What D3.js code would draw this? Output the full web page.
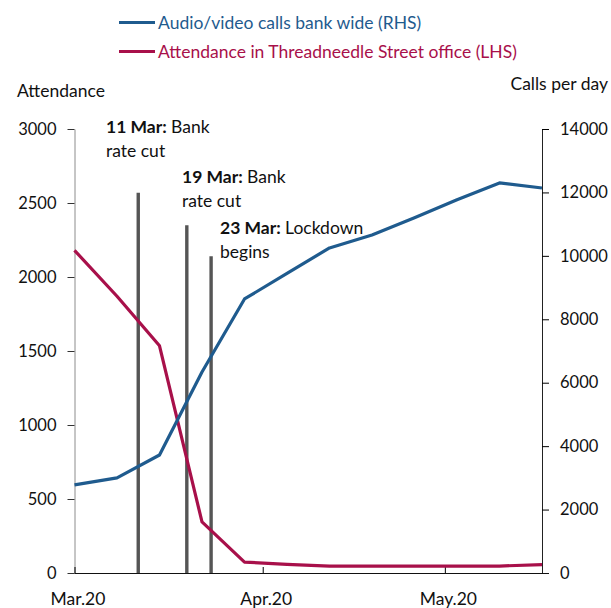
<!DOCTYPE html>
<html>
<head>
<meta charset="utf-8">
<script src="https://cdn.jsdelivr.net/npm/d3@7"></script>
<style>
  body { margin: 0; background: #fff; }
  text { font-family: Lato, "Open Sans", sans-serif; }
</style>
</head>
<body>
<script>
// weekly observations
const weeks = ["2020-03-01","2020-03-08","2020-03-15","2020-03-22","2020-03-29","2020-04-05",
               "2020-04-12","2020-04-19","2020-04-26","2020-05-03","2020-05-10","2020-05-17"];
const calls = [2780, 3000, 3720, 6340, 8640, 9450, 10250, 10660, 11200, 11770, 12300, 12140];
const attendance = [2180, 1870, 1535, 345, 74, 58, 47, 47, 47, 47, 47, 57];

// events marked with bars (attendance-axis heights)
const eventDates = ["2020-03-11T12:00","2020-03-19T12:00","2020-03-23T12:00"];
const eventHeights = [2570, 2350, 2140];
const eventBold = ["11 Mar:", "19 Mar:", "23 Mar:"];
const eventRest = [["Bank", "rate cut"], ["Bank", "rate cut"], ["Lockdown", "begins"]];

const leftTicks = [0, 500, 1000, 1500, 2000, 2500, 3000];
const rightTicks = [0, 2000, 4000, 6000, 8000, 10000, 12000, 14000];
const monthTicks = ["2020-03-01","2020-04-01","2020-05-01"];

const blue = "#1f5b8e", red = "#a8104a", grey = "#555";
const fs = 17.5;

const parse = s => new Date(s);

const svg = d3.select("body").append("svg")
    .attr("width", 611)
    .attr("height", 608);

const x = d3.scaleTime()
    .domain([parse("2020-03-01"), parse("2020-05-17")])
    .range([74.5, 542]);
const yL = d3.scaleLinear().domain([0, 3000]).range([573, 129]);
const yR = d3.scaleLinear().domain([0, 14000]).range([573, 129]);

// event bars
eventDates.forEach((d, i) => {
    svg.append("line")
        .attr("x1", x(parse(d))).attr("x2", x(parse(d)))
        .attr("y1", yL(0)).attr("y2", yL(eventHeights[i]))
        .attr("stroke", grey)
        .attr("stroke-width", 3.4);
});

// axes
const gL = svg.append("g")
    .attr("transform", "translate(74.5,0)")
    .call(d3.axisLeft(yL).tickValues(leftTicks).tickSizeInner(7).tickSizeOuter(0).tickPadding(11).tickFormat(d3.format("d")));
gL.select(".domain").attr("stroke", "#8c8c8c");
gL.selectAll(".tick line").attr("stroke", "#333");

const gR = svg.append("g")
    .attr("transform", "translate(542,0)")
    .call(d3.axisRight(yR).tickValues(rightTicks).tickSizeInner(7).tickSizeOuter(0).tickPadding(11).tickFormat(d3.format("d")));
gR.select(".domain").attr("stroke", "#222");

const gX = svg.append("g")
    .attr("transform", "translate(0,573)")
    .call(d3.axisBottom(x).tickValues(monthTicks.map(parse)).tickSizeInner(-6).tickSizeOuter(0).tickPadding(20)
        .tickFormat(d3.timeFormat("%b.%y")));
gX.select(".domain").attr("stroke", "#111").attr("d", "M74.5,0.5H549");
gX.selectAll(".tick text").attr("dx", 3).attr("font-size", fs);

svg.selectAll(".tick text")
    .attr("font-family", "Lato, sans-serif")
    .attr("fill", "#111");
gL.selectAll(".tick text").attr("font-size", 16.5);
gR.selectAll(".tick text").attr("font-size", 16.5);

// lines
const pts = weeks.map(parse);
svg.append("path")
    .datum(attendance)
    .attr("fill", "none")
    .attr("stroke", red)
    .attr("stroke-width", 3.2)
    .attr("stroke-linejoin", "round")
    .attr("d", d3.line().x((d, i) => x(pts[i])).y(d => yL(d)));

svg.append("path")
    .datum(calls)
    .attr("fill", "none")
    .attr("stroke", blue)
    .attr("stroke-width", 3.2)
    .attr("stroke-linejoin", "round")
    .attr("d", d3.line().x((d, i) => x(pts[i])).y(d => yR(d)));

// annotations
const annX = [106, 182, 220];
const annY = [133, 183, 234];
eventBold.forEach((b, i) => {
    const t = svg.append("text")
        .attr("x", annX[i]).attr("y", annY[i])
        .attr("font-size", fs).attr("fill", "#111");
    t.append("tspan").attr("font-weight", "bold").text(b + " ");
    t.append("tspan").text(eventRest[i][0]);
    svg.append("text")
        .attr("x", annX[i]).attr("y", annY[i] + 24)
        .attr("font-size", fs).attr("fill", "#111")
        .text(eventRest[i][1]);
});

// axis titles
svg.append("text").attr("x", 17).attr("y", 97)
    .attr("font-size", fs).attr("fill", "#111").text("Attendance");
svg.append("text").attr("x", 608).attr("y", 90).attr("text-anchor", "end")
    .attr("font-size", fs).attr("fill", "#111").text("Calls per day");

// legend
const legend = [["Audio/video calls bank wide (RHS)", blue, 22.5],
                ["Attendance in Threadneedle Street office (LHS)", red, 51.5]];
legend.forEach(l => {
    svg.append("line")
        .attr("x1", 119).attr("x2", 155)
        .attr("y1", l[2]).attr("y2", l[2])
        .attr("stroke", l[1]).attr("stroke-width", 3.2);
    svg.append("text")
        .attr("x", 158).attr("y", l[2] + 6)
        .attr("font-size", fs).attr("fill", l[1])
        .text(l[0]);
});
</script>
</body>
</html>
